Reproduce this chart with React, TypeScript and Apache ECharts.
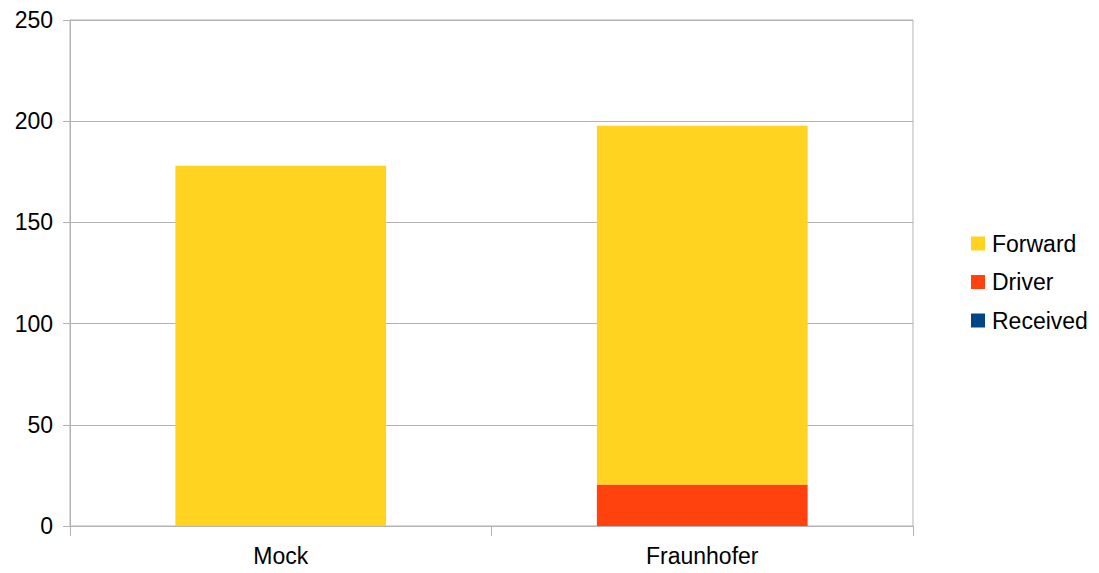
import React, { useEffect, useRef } from "react";
import * as echarts from "echarts";

const categories = ["Mock", "Fraunhofer"];
const receivedValues = [0, 0];
const driverValues = [0, 20.5];
const forwardValues = [178, 177.2];
const legendOrder = ["Forward", "Driver", "Received"];

export default function App() {
  const ref = useRef<HTMLDivElement>(null);
  useEffect(() => {
    if (!ref.current) return;
    const chart = echarts.init(ref.current, null, { renderer: "svg" });
    const font = "'Liberation Sans', Arial, sans-serif";
    chart.setOption({
      animation: false,
      backgroundColor: "#ffffff",
      textStyle: { fontFamily: font },
      grid: {
        left: 70,
        right: 186,
        top: 20,
        bottom: 47,
        show: true,
        borderColor: "#b3b3b3",
        borderWidth: 1,
        containLabel: false,
      },
      legend: {
        orient: "vertical",
        left: 966,
        top: 227,
        itemWidth: 14,
        itemHeight: 14,
        itemGap: 15.5,
        icon: "rect",
        data: legendOrder,
        textStyle: { fontFamily: font, fontSize: 23, color: "#000", padding: [0, 0, 0, 2] },
      },
      xAxis: {
        type: "category",
        data: categories,
        axisLine: { lineStyle: { color: "#b3b3b3", width: 1 } },
        axisTick: { show: true, length: 10, alignWithLabel: false, lineStyle: { color: "#b3b3b3" } },
        axisLabel: { fontFamily: font, fontSize: 23, color: "#000", margin: 18 },
        splitLine: { show: false },
      },
      yAxis: {
        type: "value",
        min: 0,
        max: 250,
        interval: 50,
        axisLine: { show: true, lineStyle: { color: "#b3b3b3", width: 1 } },
        axisTick: { show: true, length: 7, lineStyle: { color: "#b3b3b3" } },
        axisLabel: { fontFamily: font, fontSize: 23, color: "#000", margin: 17 },
        splitLine: { show: true, lineStyle: { color: "#b3b3b3", width: 1 } },
      },
      series: [
        {
          name: "Received",
          type: "bar",
          stack: "total",
          data: receivedValues,
          barWidth: "50%",
          itemStyle: { color: "#004586" },
        },
        {
          name: "Driver",
          type: "bar",
          stack: "total",
          data: driverValues,
          barWidth: "50%",
          itemStyle: { color: "#ff420e" },
        },
        {
          name: "Forward",
          type: "bar",
          stack: "total",
          data: forwardValues,
          barWidth: "50%",
          itemStyle: { color: "#ffd320" },
        },
      ],
    });
    return () => chart.dispose();
  }, []);
  return (
    <div
      ref={ref}
      style={{ position: "absolute", left: 0, top: 0, width: 1099, height: 573 }}
    />
  );
}
